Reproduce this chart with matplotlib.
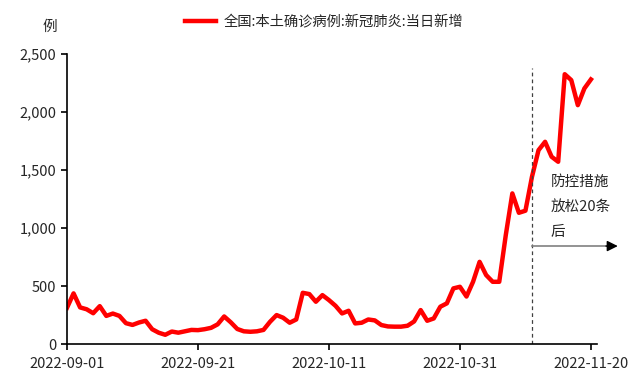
import matplotlib
matplotlib.use('Agg')
import matplotlib.pyplot as plt
import matplotlib.dates as mdates
import numpy as np
import pandas as pd

plt.rcParams['font.family'] = ['Noto Sans CJK SC', 'DejaVu Sans']

# daily new local confirmed cases, 2022-09-01 .. 2022-11-20
dates = pd.date_range('2022-09-01', '2022-11-20', freq='D')
cases = [313, 437, 316, 300, 266, 327, 243, 263, 243, 180,
         165, 186, 201, 128, 98, 80, 108, 98, 110, 122,
         120, 128, 140, 170, 238, 188, 130, 110, 106, 110,
         122, 192, 250, 227, 184, 212, 442, 431, 365, 422,
         379, 330, 264, 287, 178, 184, 212, 204, 164, 152,
         150, 150, 158, 195, 293, 201, 221, 322, 351, 480,
         494, 410, 537, 709, 595, 537, 537, 940, 1299, 1132,
         1150, 1443, 1672, 1744, 1615, 1572, 2327, 2276, 2060, 2204,
         2282]
series_name = '全国:本土确诊病例:新冠肺炎:当日新增'
policy_date = pd.Timestamp('2022-11-11')
note_lines = ['防控措施', '放松20条', '后']
tick_dates = pd.to_datetime(['2022-09-01', '2022-09-21', '2022-10-11',
                             '2022-10-31', '2022-11-20'])

fig = plt.figure(figsize=(6.4, 3.84), dpi=100)
ax = fig.add_axes([0.1047, 0.104, 0.828, 0.755])

line, = ax.plot(dates, cases, color='#FF0000', linewidth=3.2,
                solid_joinstyle='round', label=series_name)

ax.set_ylim(0, 2500)
ax.set_xlim(dates[0], dates[-1] + pd.Timedelta(hours=22))
ax.set_yticks(np.arange(0, 2501, 500))
ax.yaxis.set_major_formatter(matplotlib.ticker.FuncFormatter(lambda v, p: f'{int(v):,}'))
ax.set_xticks(tick_dates)
ax.xaxis.set_major_formatter(mdates.DateFormatter('%Y-%m-%d'))

for s in ['top', 'right']:
    ax.spines[s].set_visible(False)
for s in ['left', 'bottom']:
    ax.spines[s].set_color('black')
    ax.spines[s].set_linewidth(1.2)
ax.tick_params(axis='both', direction='out', length=4, width=1.2,
               labelsize=10.5, colors='black', labelcolor='#262626')
ax.tick_params(axis='x', pad=5)

# policy line
ax.plot([policy_date, policy_date], [0, 2380], color='#404040',
        linewidth=0.9, linestyle=(0, (3, 2.5)))

# arrow
arrow_y = 845
ax.plot([policy_date, policy_date + pd.Timedelta(days=11.5)], [arrow_y, arrow_y],
        color='#808080', linewidth=1.2, clip_on=False)
ax.annotate('', xy=(policy_date + pd.Timedelta(days=13.1), arrow_y),
            xytext=(policy_date + pd.Timedelta(days=11.3), arrow_y),
            arrowprops=dict(arrowstyle='-|>', color='black', lw=1,
                            mutation_scale=16, shrinkA=0, shrinkB=0),
            annotation_clip=False)

for i, txt in enumerate(note_lines):
    ax.text(policy_date + pd.Timedelta(days=2.9), 1400 - i * 215, txt,
            fontsize=10.5, color='#262626', ha='left', va='center')

fig.text(50 / 640, 1 - 27 / 384, '例', fontsize=10.5, color='#262626',
         ha='center', va='center')

fig.legend(handles=[line], loc='center', bbox_to_anchor=(0.506, 0.943),
           frameon=False, fontsize=10.3, handlelength=2.2, handletextpad=0.5,
           labelcolor='#262626')

fig.savefig('out.png', dpi=100)
